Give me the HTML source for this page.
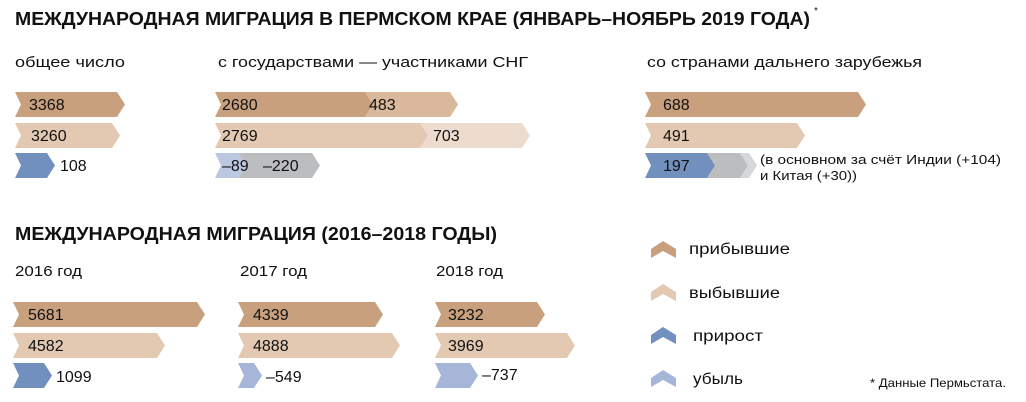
<!DOCTYPE html>
<html><head><meta charset="utf-8"><style>
html,body{margin:0;padding:0;background:#fff;}
svg{display:block;font-family:"Liberation Sans","DejaVu Sans",sans-serif;}
</style></head><body>
<svg width="1026" height="402" viewBox="0 0 1026 402" xmlns="http://www.w3.org/2000/svg">
<text x="15" y="25" font-size="18" font-weight="bold" fill="#111" textLength="795" lengthAdjust="spacingAndGlyphs">МЕЖДУНАРОДНАЯ МИГРАЦИЯ В ПЕРМСКОМ КРАЕ (ЯНВАРЬ–НОЯБРЬ 2019 ГОДА)</text>
<text x="814" y="14" font-size="10" fill="#111">*</text>
<g font-size="15" fill="#111">
<text x="15" y="67" textLength="110" lengthAdjust="spacingAndGlyphs">общее число</text>
<text x="218" y="67" textLength="310" lengthAdjust="spacingAndGlyphs">с государствами — участниками СНГ</text>
<text x="647" y="67" textLength="275" lengthAdjust="spacingAndGlyphs">со странами дальнего зарубежья</text>
</g>
<polygon points="15,92 117,92 125,104.5 117,117 15,117 21,104.5" fill="#c8a07d"/>
<polygon points="15,123 112,123 120,135.5 112,148 15,148 21,135.5" fill="#e3c9b2"/>
<polygon points="15,153 47,153 55,165.5 47,178 15,178 21,165.5" fill="#7190bd"/>
<polygon points="365,92 450,92 458,104.5 450,117 365,117 373,104.5" fill="#d9b89b"/>
<polygon points="215,92 365,92 373,104.5 365,117 215,117 221,104.5" fill="#c8a07d"/>
<polygon points="420,123 522,123 530,135.5 522,148 420,148 428,135.5" fill="#eddcce"/>
<polygon points="215,123 420,123 428,135.5 420,148 215,148 221,135.5" fill="#e3c9b2"/>
<polygon points="238,153 312,153 320,165.5 312,178 238,178 246,165.5" fill="#bcbdbf"/>
<polygon points="215,153 238,153 246,165.5 238,178 215,178 221,165.5" fill="#bcc7e0"/>
<polygon points="645,92 858,92 866,104.5 858,117 645,117 651,104.5" fill="#c8a07d"/>
<polygon points="645,123 797,123 805,135.5 797,148 645,148 651,135.5" fill="#e3c9b2"/>
<polygon points="740,153 749,153 757,165.5 749,178 740,178 748,165.5" fill="#d6d7d9"/>
<polygon points="707,153 740,153 748,165.5 740,178 707,178 715,165.5" fill="#bcbdbf"/>
<polygon points="645,153 707,153 715,165.5 707,178 645,178 651,165.5" fill="#7190bd"/>
<g font-size="16" fill="#111">
<text x="29" y="110">3368</text>
<text x="31" y="141">3260</text>
<text x="60" y="171">108</text>
<text x="222" y="110">2680</text>
<text x="369" y="110">483</text>
<text x="222" y="141">2769</text>
<text x="433" y="141">703</text>
<text x="222" y="171">–89</text>
<text x="263" y="171">–220</text>
<text x="663" y="110">688</text>
<text x="663" y="141">491</text>
<text x="663" y="171">197</text>
</g>
<g font-size="13" fill="#111">
<text x="760" y="164" textLength="241" lengthAdjust="spacingAndGlyphs">(в основном за счёт Индии (+104)</text>
<text x="760" y="180" textLength="97" lengthAdjust="spacingAndGlyphs">и Китая (+30))</text>
</g>
<text x="15" y="240" font-size="18" font-weight="bold" fill="#111" textLength="482" lengthAdjust="spacingAndGlyphs">МЕЖДУНАРОДНАЯ МИГРАЦИЯ (2016–2018 ГОДЫ)</text>
<g font-size="15" fill="#111">
<text x="15" y="276" textLength="67" lengthAdjust="spacingAndGlyphs">2016 год</text>
<text x="240" y="276" textLength="67" lengthAdjust="spacingAndGlyphs">2017 год</text>
<text x="436" y="276" textLength="67" lengthAdjust="spacingAndGlyphs">2018 год</text>
</g>
<polygon points="13,302 197,302 205,314.5 197,327 13,327 19,314.5" fill="#c8a07d"/>
<polygon points="13,333 157,333 165,345.5 157,358 13,358 19,345.5" fill="#e3c9b2"/>
<polygon points="13,363 44,363 52,375.5 44,388 13,388 19,375.5" fill="#7190bd"/>
<polygon points="238,302 375,302 383,314.5 375,327 238,327 244,314.5" fill="#c8a07d"/>
<polygon points="238,333 392,333 400,345.5 392,358 238,358 244,345.5" fill="#e3c9b2"/>
<polygon points="238,363 254,363 262,375.5 254,388 238,388 244,375.5" fill="#a6b6d8"/>
<polygon points="435,302 537,302 545,314.5 537,327 435,327 441,314.5" fill="#c8a07d"/>
<polygon points="435,333 567,333 575,345.5 567,358 435,358 441,345.5" fill="#e3c9b2"/>
<polygon points="435,363 470,363 478,375.5 470,388 435,388 441,375.5" fill="#a6b6d8"/>
<g font-size="16" fill="#111">
<text x="28" y="320">5681</text>
<text x="28" y="351">4582</text>
<text x="56" y="382">1099</text>
<text x="253" y="320">4339</text>
<text x="253" y="351">4888</text>
<text x="266" y="382">–549</text>
<text x="448" y="320">3232</text>
<text x="448" y="351">3969</text>
<text x="482" y="380">–737</text>
</g>
<polygon points="651,249 663,241 676,249 676,258 663,251 651,258" fill="#c8a07d"/>
<polygon points="651,292 663,284 676,292 676,301 663,294 651,301" fill="#e3c9b2"/>
<polygon points="651,335 663,327 676,335 676,344 663,337 651,344" fill="#7190bd"/>
<polygon points="651,378 663,370 676,378 676,387 663,380 651,387" fill="#a6b6d8"/>
<g font-size="15.5" fill="#111">
<text x="689" y="254" textLength="101" lengthAdjust="spacingAndGlyphs">прибывшие</text>
<text x="689" y="298" textLength="91" lengthAdjust="spacingAndGlyphs">выбывшие</text>
<text x="693" y="341" textLength="70" lengthAdjust="spacingAndGlyphs">прирост</text>
<text x="693" y="384" textLength="50" lengthAdjust="spacingAndGlyphs">убыль</text>
</g>
<text x="870" y="387" font-size="12" fill="#111" textLength="136" lengthAdjust="spacingAndGlyphs">* Данные Пермьстата.</text>
</svg>
</body></html>
